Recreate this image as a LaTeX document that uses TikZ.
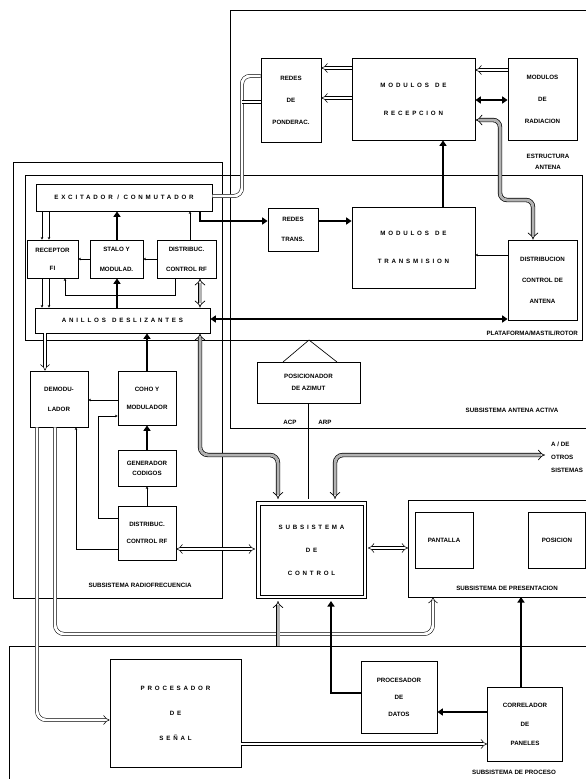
\documentclass[tikz,border=0pt]{standalone}
\usepackage{fontspec}
\setmainfont{Liberation Sans}
\usetikzlibrary{arrows.meta}
\newcommand\spc[1]{{\addfontfeatures{LetterSpace=45}#1}}
\begin{document}
\begin{tikzpicture}[x=1pt,y=-1pt,
  every node/.style={font=\fontsize{6.2}{8}\selectfont\bfseries},
  blk/.style={draw, line width=0.75pt, fill=white, align=center, inner sep=0pt},
  frm/.style={draw, line width=0.65pt},
  lbl/.style={inner sep=0pt, align=center},
  thk/.style={line width=2.4pt, -{Triangle[length=5.5pt,width=7pt]}},
  thkk/.style={line width=2.4pt, {Triangle[length=5.5pt,width=7pt]}-{Triangle[length=5.5pt,width=7pt]}},
  thn/.style={line width=0.5pt, -{Stealth[length=2.6pt,width=2.6pt]}},
  hol/.style={double, double distance=2.8pt, line width=0.55pt, -{Implies}},
  holl/.style={double, double distance=2.8pt, line width=0.55pt, {Implies}-{Implies}},
  pipe/.style={double, double distance=2.8pt, line width=0.55pt},
  gry/.style={draw=black, double=gray!60, double distance=3pt, line width=0.7pt, {Implies}-{Implies}},
  gry1/.style={draw=black, double=gray!60, double distance=3pt, line width=0.7pt, -{Implies}}
]
\useasboundingbox (0,0) rectangle (586,779);
% frames
\draw[frm] (586,10) -- (230,10) -- (230,428) -- (586,428);
\draw[frm] (25,175) rectangle (582,340);
\draw[frm] (13,162) rectangle (222,598);
\draw[frm] (586,500) -- (408,500) -- (408,597) -- (586,597);
\draw[frm] (586,646) -- (9,646) -- (9,779);

% estructura antena
\node[blk, minimum width=60pt, minimum height=84pt] (pond) at (291,100) {REDES\\[14pt]DE\\[14pt]PONDERAC.};
\node[blk, minimum width=123pt, minimum height=82pt] (recep) at (413.5,99) {\spc{MODULOS\quad DE}\\[20pt]\spc{RECEPCION}};
\node[blk, minimum width=69pt, minimum height=82pt] (radia) at (542.5,99) {MODULOS\\[14pt]DE\\[14pt]RADIACION};
\node[lbl] (estr) at (548,162) {ESTRUCTURA\\[3pt]ANTENA};

% plataforma
\node[blk, minimum width=176pt, minimum height=27pt] (excit) at (124,197.5) {\spc{EXCITADOR / CONMUTADOR}};
\node[blk, minimum width=51pt, minimum height=38pt] (rfi) at (52.5,259) {RECEPTOR\\[10pt]FI};
\node[blk, minimum width=53pt, minimum height=38pt] (stalo) at (116.5,259) {STALO Y\\[12pt]MODULAD.};
\node[blk, minimum width=59pt, minimum height=38pt] (dcrf1) at (186.5,259) {DISTRIBUC.\\[12pt]CONTROL RF};
\node[blk, minimum width=175pt, minimum height=25pt] (anil) at (122.5,320.5) {\spc{ANILLOS\quad DESLIZANTES}};
\node[blk, minimum width=50pt, minimum height=43pt] (rtrans) at (293,229.5) {REDES\\[12pt]TRANS.};
\node[blk, minimum width=123pt, minimum height=81pt] (trans) at (413.5,247.5) {\spc{MODULOS\quad DE}\\[20pt]\spc{TRANSMISION}};
\node[blk, minimum width=69pt, minimum height=80pt] (dca) at (542.5,280) {DISTRIBUCION\\[13pt]CONTROL DE\\[13pt]ANTENA};
\node[lbl, anchor=east] (plat) at (578,333) {PLATAFORMA/MASTIL/ROTOR};

% antena activa lower
\node[blk, minimum width=103pt, minimum height=41pt] (posaz) at (308.5,382.5) {POSICIONADOR\\[4pt]DE AZIMUT};
\draw[line width=0.65pt] (283,362) -- (309,340) -- (337,362);
\node[lbl] (sant) at (512,410) {SUBSISTEMA ANTENA ACTIVA};
\node[lbl] (acp) at (290,422) {ACP};
\node[lbl] (arp) at (325,422) {ARP};
\node[lbl, anchor=west, align=left] (otros) at (551,457) {A / DE\\[5pt]OTROS\\[5pt]SISTEMAS};

% radiofrecuencia lower
\node[blk, minimum width=58pt, minimum height=56pt] (demod) at (59,399) {DEMODU-\\[12pt]LADOR};
\node[blk, minimum width=58pt, minimum height=54pt] (coho) at (147,398) {COHO Y\\[10pt]MODULADOR};
\node[blk, minimum width=58pt, minimum height=36pt] (gencod) at (147,468) {GENERADOR\\[2pt]CODIGOS};
\node[blk, minimum width=58pt, minimum height=54pt] (dcrf2) at (147,533) {DISTRIBUC.\\[9pt]CONTROL RF};
\node[lbl] (srf) at (140,585) {SUBSISTEMA RADIOFRECUENCIA};

% control and presentacion
\node[blk, minimum width=103pt, minimum height=90pt] (ctrl) at (311.5,550) {\spc{SUBSISTEMA}\\[15pt]\spc{DE}\\[15pt]\spc{CONTROL}};
\draw[line width=0.75pt] ([shift={(-3pt,3pt)}]ctrl.north west) rectangle ([shift={(3pt,-3pt)}]ctrl.south east);
\node[blk, minimum width=58pt, minimum height=56pt] (pant) at (444,540) {PANTALLA};
\node[blk, minimum width=57pt, minimum height=56pt] (posic) at (557,540) {POSICION};
\node[lbl] (spres) at (507,588) {SUBSISTEMA DE PRESENTACION};

% proceso
\node[blk, minimum width=131pt, minimum height=108pt] (psen) at (175.5,713) {\spc{PROCESADOR}\\[17pt]\spc{DE}\\[17pt]\spc{SE\~NAL}};
\node[blk, minimum width=76pt, minimum height=72pt] (pdat) at (399,697) {PROCESADOR\\[9pt]DE\\[9pt]DATOS};
\node[blk, minimum width=75pt, minimum height=74pt] (corr) at (525,724) {CORRELADOR\\[11pt]DE\\[11pt]PANELES};
\node[lbl] (sproc) at (514,772) {SUBSISTEMA DE PROCESO};

% ---- connectors: estructura antena
\draw[hol] (recep.west |- 0,68) -- (pond.east |- 0,68);
\draw[hol] (recep.west |- 0,98) -- (pond.east |- 0,98);
\draw[hol] (radia.west |- 0,70) -- (recep.east |- 0,70);
\draw[thkk] (recep.east |- 0,100) -- (radia.west |- 0,100);
\draw[gry, rounded corners=7pt] (recep.east |- 0,120) -- (500,120) -- (500,200) -- (533,200) -- (dca.north -| 533,0);
\draw[thk] (trans.north -| 443,0) -- (recep.south -| 443,0);
\draw[pipe, rounded corners=8pt] (excit.east |- 0,196) -- (242,196) -- (242,76) -- (pond.west |- 0,76);
\draw[pipe] (242,102) -- (pond.west |- 0,102);

% ---- plataforma
\draw[thk] (200,211) -- (200,221) -- (rtrans.west |- 0,221);
\draw[thk] (rtrans.east |- 0,221) -- (trans.west |- 0,221);
\draw[thn] (dca.west |- 0,255) -- (trans.east |- 0,255);
\draw[thkk] (anil.east |- 0,319) -- (dca.west |- 0,319);
\draw[thn] (42,211) -- (rfi.north -| 42,0);
\draw[thn] (49,211) -- (rfi.north -| 49,0);
\draw[thk] (stalo.north -| 117,0) -- (excit.south -| 117,0);
\draw[thn] (dcrf1.north -| 190,0) -- (excit.south -| 190,0);
\draw[thn] (stalo.west) -- (rfi.east);
\draw[thn] (dcrf1.west) -- (stalo.east);
\draw[thn] (dcrf1.south -| 175,0) -- (175,295) -- (65,295) -- (rfi.south -| 65,0);
\draw[thk] (anil.north -| 117,0) -- (stalo.south -| 117,0);
\draw[gry] (anil.north -| 200,0) -- (dcrf1.south -| 200,0);
\draw[thn] (rfi.south -| 42,0) -- (anil.north -| 42,0);
\draw[thn] (rfi.south -| 49,0) -- (anil.north -| 49,0);

% ---- below anillos
\draw[hol] (anil.south -| 45,0) -- (demod.north -| 45,0);
\draw[thk] (coho.north) -- (anil.south -| coho.north);
\draw[gry, rounded corners=8pt] (anil.south -| 200,0) -- (200,455) -- (278,455) -- (278,499);
\draw[gry, rounded corners=8pt] (335,499) -- (335,455) -- (545,455);
\draw[line width=0.55pt] (posaz.south) -- (308.5,499);
\draw[thn] (coho.west |- 0,400) -- (demod.east |- 0,400);
\draw[thk] (gencod.north) -- (coho.south);
\draw[thn] (dcrf2.north) -- (gencod.south);
\draw[thn] (dcrf2.west |- 0,518) -- (98,518) -- (98,416) -- (coho.west |- 0,416);
\draw[thn] (dcrf2.west |- 0,549) -- (76,549) -- (demod.south -| 76,0);
\draw[holl] (255,549) -- (dcrf2.east |- 0,549);
\draw[holl] (368,548) -- (408,548);

% ---- proceso
\draw[hol, rounded corners=9pt] (demod.south -| 37,0) -- (37,720) -- (psen.west |- 0,720);
\draw[hol, rounded corners=9pt] (demod.south -| 55,0) -- (55,634) -- (433,634) -- (433,597);
\draw[gry1] (278,646) -- (278,601);
\draw[thk] (pdat.west |- 0,693) -- (331,693) -- (331,601);
\draw[thk] (corr.north -| 521,0) -- (521,597);
\draw[thk] (corr.west |- 0,712) -- (pdat.east |- 0,712);
\draw[hol] (psen.east |- 0,744) -- (corr.west |- 0,744);
\end{tikzpicture}
\end{document}
